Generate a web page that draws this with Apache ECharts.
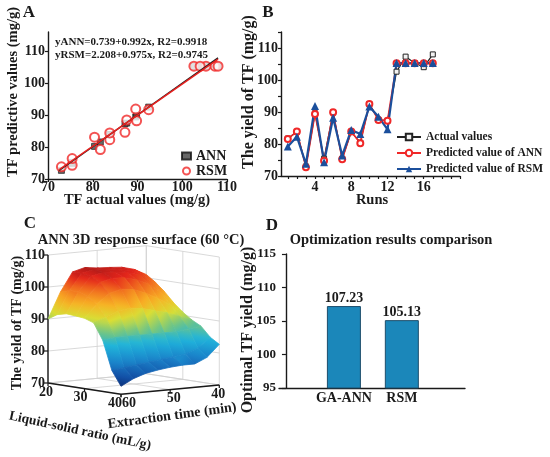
<!DOCTYPE html>
<html>
<head>
<meta charset="utf-8">
<script src="https://cdn.jsdelivr.net/npm/echarts@6/dist/echarts.min.js"></script>
<style>
html, body { margin: 0; padding: 0; background: #fff; }
#main { width: 550px; height: 457px; }
</style>
</head>
<body>
<div id="main"></div>
<script>
/* ---- data ---- */
var runs = [1, 2, 3, 4, 5, 6, 7, 8, 9, 10, 11, 12, 13, 14, 15, 16, 17];
var actualValues = [81.7, 83.8, 73.0, 89.6, 75.4, 89.8, 75.4, 83.8, 80.4, 92.5, 87.6, 87.2, 102.6, 107.3, 105.3, 104.0, 108.0];
var annValues = [81.6, 83.9, 72.7, 89.4, 74.8, 89.9, 75.2, 83.9, 80.2, 92.5, 87.5, 87.3, 105.2, 105.2, 105.2, 105.2, 105.2];
var rsmValues = [79.2, 82.3, 73.8, 91.9, 74.3, 88.2, 76.4, 84.4, 83.1, 91.7, 88.5, 84.6, 105.3, 105.3, 105.3, 105.3, 105.3];

// fitted lines of panel A (end points)
var fitANN = [[72.5, 72.66], [108, 107.87]];
var fitRSM = [[72.5, 72.90], [108, 107.51]];

var ticksA = [70, 80, 90, 100, 110];
var runTicks = [1, 2, 3, 4, 5, 6, 7, 8, 9, 10, 11, 12, 13, 14, 15, 16, 17, 18, 19, 20];
var runLabels = [4, 8, 12, 16];

// panel C surface: rows = liquid-solid ratio, columns = extraction time
var ratioGrid = [20, 22.5, 25, 27.5, 30, 32.5, 35, 37.5, 40];
var timeGrid = [40, 42.5, 45, 47.5, 50, 52.5, 55, 57.5, 60];
var surfaceYield = [
    [101.0, 103.0, 104.0, 104.3, 104.5, 105.0, 104.0, 98.0, 90.0],
    [ 99.0, 102.0, 103.5, 104.0, 104.3, 104.8, 104.0, 99.0, 91.8],
    [ 96.5, 100.0, 102.5, 103.5, 104.0, 104.3, 103.5, 99.0, 92.5],
    [ 93.5,  97.0, 100.0, 101.8, 102.8, 103.0, 102.0, 98.0, 92.3],
    [ 91.0,  93.5,  96.0,  98.0,  99.5, 100.0,  99.0, 96.0, 92.0],
    [ 89.0,  90.5,  92.0,  93.0,  94.0,  94.5,  94.0, 92.5, 91.0],
    [ 87.5,  87.0,  86.5,  86.5,  86.5,  86.5,  86.5, 86.5, 86.0],
    [ 84.5,  81.5,  80.0,  79.5,  79.0,  78.5,  78.0, 77.5, 77.0],
    [ 82.7,  79.0,  77.3,  77.3,  77.0,  76.5,  75.8, 74.5, 72.5]
];
var ratioTicks = [20, 30, 40];
var timeTicks = [60, 50, 40];
var yieldTicks = [70, 80, 90, 100, 110];

var optMethods = ['GA-ANN', 'RSM'];
var optValues = [107.23, 105.13];

/* ---- styles ---- */
var FONT = '"Liberation Serif", "Times New Roman", serif';
var INK = '#1a1a1a';
function font(size) { return 'bold ' + size + 'px ' + FONT; }

// jet-like colour ramp of the surface
var jetStops = [
    [72, '#0a2c72'], [75, '#1250a6'], [79, '#1a80c8'], [84, '#1fb4dc'], [88, '#6cc488'],
    [92, '#d8df36'], [96, '#f8b024'], [100, '#f06a1e'], [103, '#e3241b'], [106, '#9c1717']
];
function hexRgb(h) { return [parseInt(h.substr(1, 2), 16), parseInt(h.substr(3, 2), 16), parseInt(h.substr(5, 2), 16)]; }
function yieldColor(v) {
    if (v <= jetStops[0][0]) return jetStops[0][1];
    for (var k = 1; k < jetStops.length; k++) {
        if (v <= jetStops[k][0]) {
            var t = (v - jetStops[k - 1][0]) / (jetStops[k][0] - jetStops[k - 1][0]);
            var c1 = hexRgb(jetStops[k - 1][1]), c2 = hexRgb(jetStops[k][1]);
            return 'rgb(' + Math.round(c1[0] + (c2[0] - c1[0]) * t) + ',' + Math.round(c1[1] + (c2[1] - c1[1]) * t) + ',' + Math.round(c1[2] + (c2[2] - c1[2]) * t) + ')';
        }
    }
    return jetStops[jetStops.length - 1][1];
}

// oblique projection of (ratio, time, yield) onto the hidden cartesian of panel C
function project(ratio, time, y) {
    var a = (ratio - 20) / 20, b = (60 - time) / 20, c = (y - 70) / 40;
    return [73 * a + 98.3 * b, 12 - 11.3 * a + 9.3 * b + 128 * c];
}

/* 3D box, walls, ticks */
function renderBox(params, api) {
    var kids = [];
    function P(r, t, z) { return api.coord(project(r, t, z)); }
    function seg(p, q, color, w) {
        kids.push({ type: 'line', shape: { x1: p[0], y1: p[1], x2: q[0], y2: q[1] }, style: { stroke: color, lineWidth: w } });
    }
    function txt(s, x, y, align) {
        kids.push({ type: 'text', x: x, y: y, style: { text: s, font: font(14), fill: INK, align: align, verticalAlign: 'middle' } });
    }
    var gray = '#cfcfcf';
    yieldTicks.forEach(function (z) {
        seg(P(20, 60, z), P(20, 40, z), gray, 0.8);
        seg(P(20, 40, z), P(40, 40, z), gray, 0.8);
    });
    timeTicks.forEach(function (t) { seg(P(20, t, 70), P(20, t, 110), gray, 0.8); seg(P(20, t, 70), P(40, t, 70), gray, 0.8); });
    ratioTicks.forEach(function (r) { seg(P(r, 40, 70), P(r, 40, 110), gray, 0.8); seg(P(r, 60, 70), P(r, 40, 70), gray, 0.8); });
    // axes
    seg(P(20, 60, 70), P(20, 60, 110), INK, 1.4);
    seg(P(20, 60, 70), P(40, 60, 70), INK, 1.4);
    seg(P(40, 60, 70), P(40, 40, 70), INK, 1.4);
    yieldTicks.forEach(function (z) {
        var p = P(20, 60, z);
        seg(p, [p[0] - 4, p[1]], INK, 1.2);
        txt(String(z), p[0] - 3, p[1], 'right');
    });
    ratioTicks.forEach(function (r) {
        var p = P(r, 60, 70), a = (r - 20) / 20;
        seg(p, [p[0], p[1] + 3], INK, 1.2);
        txt(String(r), p[0] - 2 - 4 * a, p[1] + 9, 'center');
    });
    timeTicks.forEach(function (t) {
        var p = P(40, t, 70), b = (60 - t) / 20;
        seg(p, [p[0], p[1] + 3], INK, 1.2);
        txt(String(t), p[0] + 8 - 9 * b, p[1] + 9, 'center');
    });
    return { type: 'group', children: kids };
}

/* surface quads, far ones first */
var quads = [];
for (var i = 0; i < ratioGrid.length - 1; i++) {
    for (var j = 0; j < timeGrid.length - 1; j++) {
        var a = (ratioGrid[i] + ratioGrid[i + 1]) / 2, t = (timeGrid[j] + timeGrid[j + 1]) / 2;
        quads.push([i, j, project(a, t, 70)[1]]);
    }
}
quads.sort(function (p, q) { return q[2] - p[2]; });

function renderSurface(params, api) {
    var i = api.value(0), j = api.value(1);
    var cs = [[i, j], [i + 1, j], [i + 1, j + 1], [i, j + 1]];
    var pts = [], zs = [];
    cs.forEach(function (c) {
        var z = surfaceYield[c[0]][c[1]];
        zs.push(z);
        pts.push(api.coord(project(ratioGrid[c[0]], timeGrid[c[1]], z)));
    });
    var hi = 0, lo = 0;
    for (var k = 1; k < 4; k++) {
        if (zs[k] > zs[hi]) hi = k;
        if (zs[k] < zs[lo]) lo = k;
    }
    var p1 = pts[hi], p2 = pts[lo];
    if (Math.abs(p1[0] - p2[0]) + Math.abs(p1[1] - p2[1]) < 0.5) p2 = [p1[0], p1[1] + 1];
    var stops = [];
    for (var s = 0; s <= 4; s++) {
        stops.push({ offset: s / 4, color: yieldColor(zs[hi] + (zs[lo] - zs[hi]) * s / 4) });
    }
    var g = new echarts.graphic.LinearGradient(p1[0], p1[1], p2[0], p2[1], stops, true);
    return { type: 'polygon', shape: { points: pts }, style: { fill: g, stroke: g, lineWidth: 0.8 } };
}

/* ---- chart ---- */
var myChart = echarts.init(document.getElementById('main'));

var axisLine = { lineStyle: { color: INK, width: 1.4 } };
var tickStyle = { lineStyle: { color: INK, width: 1.2 } };
function lab(size, margin) { return { color: INK, fontFamily: FONT, fontWeight: 'bold', fontSize: size, margin: margin }; }

function gtext(s, x, y, size, rot) {
    return { type: 'text', x: x, y: y, rotation: rot || 0, silent: true,
        style: { text: s, font: font(size), fill: INK, align: 'center', verticalAlign: 'middle' } };
}

var option = {
    backgroundColor: '#fff',
    animation: false,
    grid: [
        { left: 48, top: 32, width: 179, height: 147 },
        { left: 281, top: 32, width: 179, height: 144 },
        { left: 48, top: 245, width: 172, height: 150 },
        { left: 279, top: 254, width: 186, height: 134 }
    ],
    xAxis: [
        { gridIndex: 0, type: 'value', min: 70, max: 110, axisLine: axisLine, splitLine: { show: false },
          axisTick: Object.assign({ customValues: ticksA, length: 3 }, tickStyle),
          axisLabel: Object.assign({ customValues: ticksA }, lab(14, 1)) },
        { gridIndex: 1, type: 'value', min: 0.25, max: 20, axisLine: axisLine, splitLine: { show: false },
          axisTick: Object.assign({ customValues: runTicks, length: 3 }, tickStyle),
          axisLabel: Object.assign({ customValues: runLabels }, lab(14, 4)) },
        { gridIndex: 2, type: 'value', min: 0, max: 172, show: false },
        { gridIndex: 3, type: 'value', min: -0.12, max: 3.09, axisLine: axisLine, splitLine: { show: false },
          axisTick: { show: false },
          axisLabel: Object.assign({ customValues: [1, 2], formatter: function (v) { return optMethods[v - 1]; } }, lab(14, 3)) }
    ],
    yAxis: [
        { gridIndex: 0, type: 'value', min: 70, max: 116, axisLine: Object.assign({ show: true }, axisLine), splitLine: { show: false },
          axisTick: Object.assign({ show: true, customValues: ticksA, length: 3 }, tickStyle),
          axisLabel: Object.assign({ customValues: ticksA }, lab(14, 3)) },
        { gridIndex: 1, type: 'value', min: 70, max: 115, interval: 5, axisLine: Object.assign({ show: true }, axisLine), splitLine: { show: false },
          axisTick: Object.assign({ show: true, length: 3 }, tickStyle),
          axisLabel: Object.assign({ formatter: function (v) { return v % 10 === 0 ? String(v) : ''; } }, lab(14, 3)) },
        { gridIndex: 2, type: 'value', min: 0, max: 150, show: false },
        { gridIndex: 3, type: 'value', min: 95, max: 115, interval: 5, axisLine: Object.assign({ show: true }, axisLine), splitLine: { show: false },
          axisTick: Object.assign({ show: true, length: 4 }, tickStyle),
          axisLabel: lab(13, 3) }
    ],
    legend: [
        { data: ['ANN', 'RSM'], orient: 'vertical', left: 181, top: 149, padding: 0, itemGap: 1,
          itemWidth: 9, itemHeight: 7, textStyle: { color: INK, fontFamily: FONT, fontWeight: 'bold', fontSize: 14 } },
        { data: ['Actual values', 'Predicted value of ANN', 'Predicted value of RSM'], orient: 'vertical', left: 396, top: 131,
          padding: 0, itemGap: 4, itemWidth: 24, itemHeight: 8,
          textStyle: { color: INK, fontFamily: FONT, fontWeight: 'bold', fontSize: 11.5 } }
    ],
    graphic: [
        gtext('A', 29, 13, 17), gtext('B', 268, 13, 17), gtext('C', 30, 224, 17), gtext('D', 272, 226, 17),
        { type: 'text', x: 55, y: 42, silent: true, style: { text: 'yANN=0.739+0.992x, R2=0.9918', font: font(11), fill: INK, verticalAlign: 'middle' } },
        { type: 'text', x: 55, y: 55, silent: true, style: { text: 'yRSM=2.208+0.975x, R2=0.9745', font: font(11), fill: INK, verticalAlign: 'middle' } },
        gtext('TF predictive values (mg/g)', 13, 92, 14.5, Math.PI / 2),
        gtext('TF actual values (mg/g)', 137, 200, 14.5),
        gtext('The yield of TF (mg/g)', 249, 92, 16, Math.PI / 2),
        gtext('Runs', 372, 200, 14.5),
        gtext('ANN 3D response surface (60 \u00B0C)', 141, 240, 14.5),
        gtext('The yield of TF (mg/g)', 17, 323, 14, Math.PI / 2),
        gtext('Liquid-solid ratio (mL/g)', 80, 431, 13.5, -12 * Math.PI / 180),
        gtext('Extraction time (min)', 172, 416, 14, 7.7 * Math.PI / 180),
        gtext('Optimization results comparison', 391, 240, 14.5),
        gtext('Optimal TF yield (mg/g)', 248, 330, 16, Math.PI / 2)
    ],
    series: [
        // panel A
        { name: 'fitANN', type: 'line', xAxisIndex: 0, yAxisIndex: 0, data: fitANN, symbol: 'none', silent: true,
          lineStyle: { color: '#222', width: 1.5 } },
        { name: 'fitRSM', type: 'line', xAxisIndex: 0, yAxisIndex: 0, data: fitRSM, symbol: 'none', silent: true,
          lineStyle: { color: '#e8201e', width: 1.5 } },
        { name: 'ANN', type: 'scatter', xAxisIndex: 0, yAxisIndex: 0, symbol: 'rect', symbolSize: 6,
          itemStyle: { color: '#444', borderColor: '#111', borderWidth: 0.8 },
          data: actualValues.map(function (v, k) { return [v, annValues[k]]; }) },
        { name: 'RSM', type: 'scatter', xAxisIndex: 0, yAxisIndex: 0, symbol: 'emptyCircle', symbolSize: 9,
          itemStyle: { color: '#f02828', borderWidth: 1.3 },
          data: actualValues.map(function (v, k) { return [v, rsmValues[k]]; }) },
        // panel B
        { name: 'Actual values', type: 'line', xAxisIndex: 1, yAxisIndex: 1, symbol: 'rect', symbolSize: 5,
          itemStyle: { color: '#f2f2f2', borderColor: '#222', borderWidth: 1 }, lineStyle: { color: '#222', width: 1.2 },
          data: runs.map(function (r, k) { return [r, actualValues[k]]; }) },
        { name: 'Predicted value of ANN', type: 'line', xAxisIndex: 1, yAxisIndex: 1, symbol: 'emptyCircle', symbolSize: 6,
          itemStyle: { color: '#f02828', borderWidth: 1.4 }, lineStyle: { color: '#f02828', width: 1.6 },
          data: runs.map(function (r, k) { return [r, annValues[k]]; }) },
        { name: 'Predicted value of RSM', type: 'line', xAxisIndex: 1, yAxisIndex: 1, symbol: 'triangle', symbolSize: 8,
          itemStyle: { color: '#1b4f9c' }, lineStyle: { color: '#1b4f9c', width: 2.2 },
          data: runs.map(function (r, k) { return [r, rsmValues[k]]; }) },
        // panel C
        { type: 'custom', xAxisIndex: 2, yAxisIndex: 2, silent: true, clip: false, renderItem: renderBox, data: [[0, 0]] },
        { type: 'custom', xAxisIndex: 2, yAxisIndex: 2, silent: true, clip: false, renderItem: renderSurface, data: quads },
        // panel D
        { type: 'bar', xAxisIndex: 3, yAxisIndex: 3, barWidth: 34,
          itemStyle: { color: '#1b87ba', borderColor: '#1d4d6b', borderWidth: 1 },
          label: { show: true, position: 'top', distance: 1, color: INK, fontFamily: FONT, fontWeight: 'bold', fontSize: 14,
                   formatter: function (p) { return p.value[1].toFixed(2); } },
          data: optValues.map(function (v, k) { return [k + 1, v]; }) }
    ]
};
myChart.setOption(option);
</script>
</body>
</html>
